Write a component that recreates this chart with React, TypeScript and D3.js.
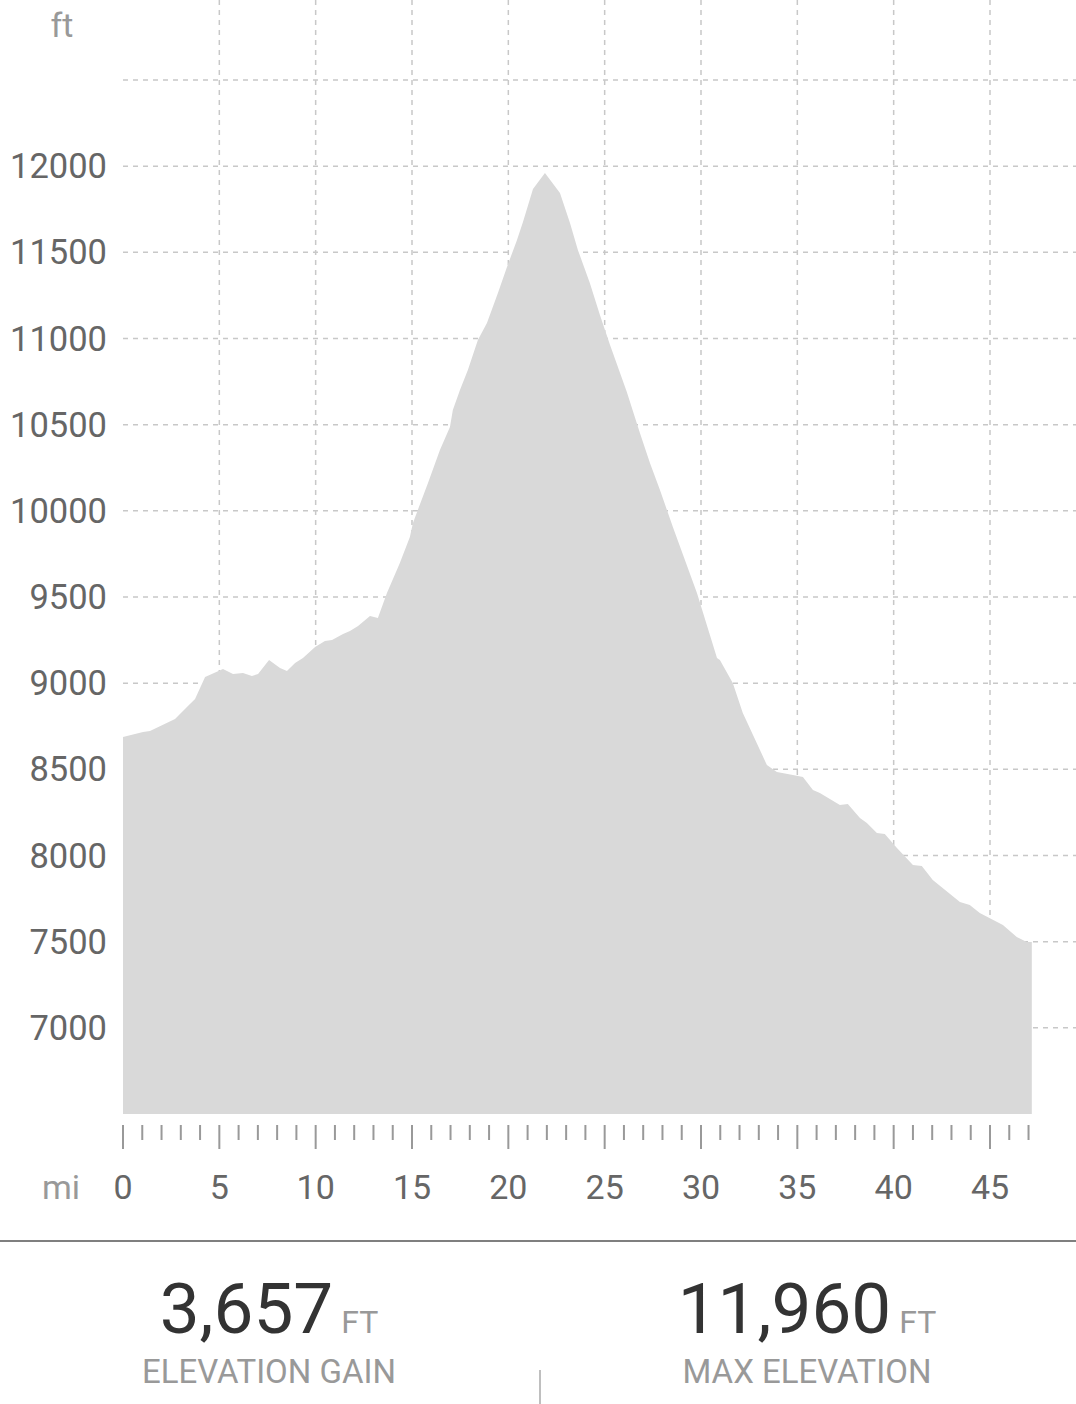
import { useEffect, useRef } from "react";
import * as d3 from "d3";

// Elevation profile (miles, feet)
const distances = [
    0, 1.04, 1.4, 2.7, 3.32, 3.74, 4.26, 5.19, 5.71, 6.23, 6.69, 7.01, 7.58, 8.15, 8.51, 8.93,
    9.34, 9.97, 10.48, 10.85, 11.42, 11.78, 12.2, 12.82, 13.23, 13.7, 14.37, 14.89, 15.05, 15.83,
    16.45, 16.97, 17.12, 17.49, 17.9, 18.42, 18.89, 19.46, 19.93, 20.45, 20.76, 21.28, 21.9,
    22.68, 23.2, 23.61, 24.23, 24.75, 25.27, 26.15, 26.83, 27.35, 27.87, 28.54, 29.79, 30.83,
    30.98, 31.65, 32.17, 33.42, 33.94, 34.77, 35.29, 35.81, 36.17, 37.21, 37.62, 38.25, 38.61,
    39.13, 39.54, 40.17, 41.0, 41.46, 42.03, 43.44, 43.95, 44.47, 45.67, 46.39, 46.91, 47.17,
];
const elevations = [
    8688, 8717, 8722, 8792, 8862, 8908, 9036, 9082, 9053, 9059, 9042, 9053, 9135, 9088, 9071, 9117,
    9146, 9210, 9245, 9251, 9286, 9303, 9332, 9390, 9378, 9523, 9697, 9848, 9930, 10162,
    10353, 10487, 10585, 10701, 10817, 10991, 11090, 11264, 11415, 11572, 11676, 11868, 11960,
    11845, 11670, 11514, 11322, 11138, 10965, 10690, 10452, 10278, 10121, 9906, 9523, 9146,
    9135, 9001, 8827, 8525, 8485, 8467, 8456, 8380, 8363, 8293, 8299, 8218, 8189,
    8131, 8125, 8044, 7945, 7939, 7858, 7730, 7713, 7666, 7597, 7527, 7498, 7498,
];

const yTicks = [7000, 7500, 8000, 8500, 9000, 9500, 10000, 10500, 11000, 11500, 12000];
const yGrid = [7000, 7500, 8000, 8500, 9000, 9500, 10000, 10500, 11000, 11500, 12000, 12500];
const xLabels = [0, 5, 10, 15, 20, 25, 30, 35, 40, 45];
const xGrid = [5, 10, 15, 20, 25, 30, 35, 40, 45];
const mileTicks = d3.range(0, 48);

const stats = [
    { value: "3,657", unit: "FT", label: "ELEVATION GAIN" },
    { value: "11,960", unit: "FT", label: "MAX ELEVATION" },
];

export default function App() {
    const svgRef = useRef<SVGSVGElement | null>(null);

    useEffect(() => {
        const width = 1076;
        const height = 1404;
        const font = "Roboto, 'Noto Sans', sans-serif";

        const x = d3.scaleLinear().domain([0, 45]).range([123, 990]);
        const y = d3.scaleLinear().domain([6500, 12500]).range([1114, 80]);

        const svg = d3.select(svgRef.current)
            .attr("width", width)
            .attr("height", height)
            .attr("viewBox", `0 0 ${width} ${height}`);
        svg.selectAll("*").remove();

        svg.append("rect").attr("width", width).attr("height", height).attr("fill", "#fff");

        // dashed grid
        svg.append("g")
            .selectAll("line")
            .data(yGrid)
            .join("line")
            .attr("x1", x(0))
            .attr("x2", width)
            .attr("y1", d => y(d))
            .attr("y2", d => y(d))
            .attr("stroke", "#c8c8c8")
            .attr("stroke-width", 1.5)
            .attr("stroke-dasharray", "5,5");

        svg.append("g")
            .selectAll("line")
            .data(xGrid)
            .join("line")
            .attr("x1", d => x(d))
            .attr("x2", d => x(d))
            .attr("y1", 0)
            .attr("y2", y(6500))
            .attr("stroke", "#c8c8c8")
            .attr("stroke-width", 1.5)
            .attr("stroke-dasharray", "5,5");

        // elevation area
        const points = distances.map((d, i) => ({ mi: d, ft: elevations[i] }));
        const area = d3.area<{ mi: number; ft: number }>()
            .x(d => x(d.mi))
            .y0(y(6500))
            .y1(d => y(d.ft));
        svg.append("path")
            .datum(points)
            .attr("d", area)
            .attr("fill", "#d9d9d9");

        // y labels
        svg.append("g")
            .selectAll("text")
            .data(yTicks)
            .join("text")
            .attr("x", 107)
            .attr("y", d => y(d) + 12)
            .attr("text-anchor", "end")
            .attr("font-family", font)
            .attr("font-size", 34.5)
            .attr("fill", "#666")
            .text(d => d);

        svg.append("text")
            .attr("x", 62)
            .attr("y", 37)
            .attr("text-anchor", "middle")
            .attr("font-family", font)
            .attr("font-size", 34)
            .attr("fill", "#999")
            .text("ft");

        // mile ticks
        svg.append("g")
            .selectAll("line")
            .data(mileTicks)
            .join("line")
            .attr("x1", d => x(d))
            .attr("x2", d => x(d))
            .attr("y1", 1125)
            .attr("y2", d => (d % 5 === 0 ? 1149 : 1140))
            .attr("stroke", "#999")
            .attr("stroke-width", 2);

        svg.append("g")
            .selectAll("text")
            .data(xLabels)
            .join("text")
            .attr("x", d => x(d))
            .attr("y", 1199)
            .attr("text-anchor", "middle")
            .attr("font-family", font)
            .attr("font-size", 34)
            .attr("fill", "#666")
            .text(d => d);

        svg.append("text")
            .attr("x", 61)
            .attr("y", 1199)
            .attr("text-anchor", "middle")
            .attr("font-family", font)
            .attr("font-size", 34)
            .attr("fill", "#999")
            .text("mi");

        // separator + stats
        svg.append("line")
            .attr("x1", 0).attr("x2", width)
            .attr("y1", 1241).attr("y2", 1241)
            .attr("stroke", "#555")
            .attr("stroke-width", 1.5);

        svg.append("line")
            .attr("x1", 540).attr("x2", 540)
            .attr("y1", 1370).attr("y2", height)
            .attr("stroke", "#aaa")
            .attr("stroke-width", 1.5);

        const cols = d3.scaleBand<number>().domain([0, 1]).range([0, width]);
        stats.forEach((s, i) => {
            const cx = (cols(i) ?? 0) + cols.bandwidth() / 2;
            const t = svg.append("text")
                .attr("x", cx)
                .attr("y", 1333)
                .attr("text-anchor", "middle")
                .attr("font-family", font);
            t.append("tspan")
                .attr("font-size", 71)
                .attr("fill", "#333")
                .text(s.value);
            t.append("tspan")
                .attr("dx", 8)
                .attr("font-size", 32)
                .attr("fill", "#999")
                .text(s.unit);
            svg.append("text")
                .attr("x", cx)
                .attr("y", 1383)
                .attr("text-anchor", "middle")
                .attr("font-family", font)
                .attr("font-size", 33)
                .attr("fill", "#999")
                .text(s.label);
        });
    }, []);

    return (
        <svg ref={svgRef} style={{ position: "absolute", left: 0, top: 0, display: "block" }} />
    );
}
